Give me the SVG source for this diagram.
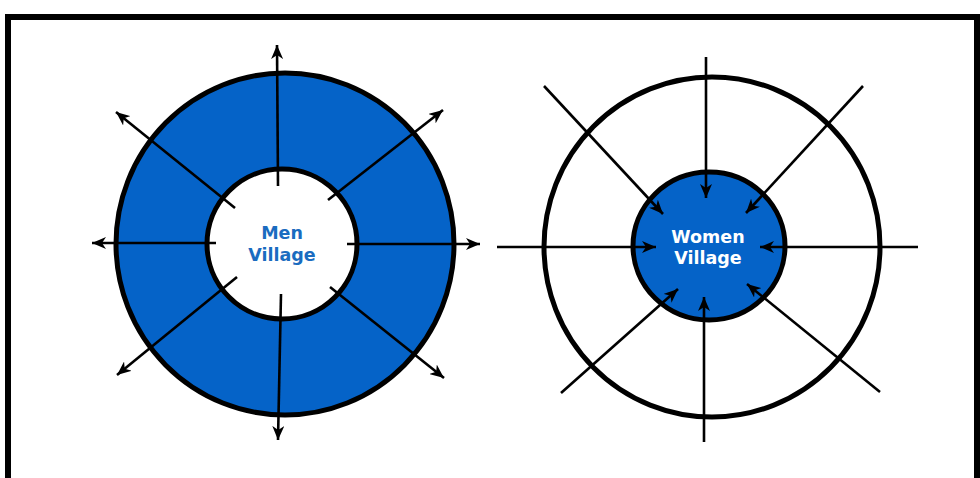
<svg xmlns="http://www.w3.org/2000/svg" width="980" height="478" viewBox="0 0 980 478">
<defs>
<marker id="ah" markerUnits="userSpaceOnUse" markerWidth="16" markerHeight="12" refX="14" refY="6" orient="auto">
<path d="M0,0 L14,6 L0,12 L4,6 Z" fill="#000"/>
</marker>
<style>
.ring{stroke:#000;stroke-width:5}
.ar{stroke:#000;stroke-width:2.6;fill:none;marker-end:url(#ah)}
.ln{stroke:#000;stroke-width:2.6;fill:none}
.lbl{font-family:"DejaVu Sans",Verdana,sans-serif;font-weight:bold;font-size:17.5px;text-anchor:middle}
</style>
</defs>
<rect width="980" height="478" fill="#fff"/>
<rect x="8" y="17" width="969" height="480" fill="none" stroke="#000" stroke-width="6"/>

<g id="men-ring">
<ellipse cx="285" cy="244" rx="169" ry="171" fill="#0563c8" class="ring"/>
</g>
<g id="men-village">
<ellipse cx="282" cy="244" rx="75" ry="75" fill="#fff" class="ring"/>
<text class="lbl" x="282" y="239" fill="#1a6cc0">Men</text>
<text class="lbl" x="282" y="261" fill="#1a6cc0">Village</text>
</g>

<g id="women-ring">
<ellipse cx="712" cy="247" rx="168" ry="170" fill="#fff" class="ring"/>
</g>
<g id="women-village">
<ellipse cx="709" cy="246" rx="76" ry="74" fill="#0563c8" class="ring"/>
<text class="lbl" x="708" y="243" fill="#fff">Women</text>
<text class="lbl" x="708" y="264" fill="#fff">Village</text>
</g>

<g id="connectors">
<line class="ar" x1="278" y1="186" x2="277" y2="45"/>
<line class="ar" x1="347" y1="244" x2="480" y2="244"/>
<line class="ar" x1="216" y1="243" x2="92" y2="243"/>
<line class="ar" x1="281" y1="294" x2="278" y2="440"/>
<line class="ar" x1="235" y1="208" x2="116" y2="112"/>
<line class="ar" x1="328" y1="200" x2="443" y2="110"/>
<line class="ar" x1="237" y1="277" x2="117" y2="375"/>
<line class="ar" x1="330" y1="287" x2="444" y2="378"/>

<line class="ar" x1="706" y1="57" x2="706" y2="198"/>
<line class="ar" x1="918" y1="247" x2="760" y2="247"/>
<line class="ar" x1="497" y1="247" x2="656" y2="247"/>
<line class="ar" x1="704" y1="442" x2="704" y2="297"/>
<line class="ar" x1="544" y1="86" x2="663" y2="214"/>
<line class="ar" x1="863" y1="86" x2="746" y2="213"/>
<line class="ar" x1="561" y1="393" x2="678" y2="289"/>
<line class="ar" x1="880" y1="392" x2="747" y2="284"/>
</g>
</svg>
